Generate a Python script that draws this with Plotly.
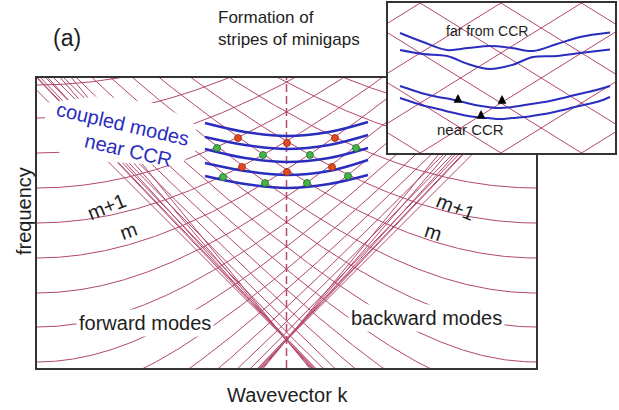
import numpy as np
import plotly.graph_objects as go

# ---------------- data (schematic units: wavevector 0..499, frequency 0..290) ----------------
K_MAX = 499.0
W_MAX = 290.0
ccr_k = 249.5                     # position of the CCR (dashed line)

# dispersion of the mode families
asym_offset = -234.0              # frequency where the common asymptote meets the zone edge
group_slope = 1.05                # asymptotic slope of the branches
# frequency of each mode at its own zone edge (forward: left edge, backward: right edge)
edge_freq = [-204, -169, -134, -99, -64, -29, 6, 41, 75, 110, 145, 180, 215, 250, 283]

# bundle of straight lines crossing at the CCR point near the bottom
bundle_k0 = 249.5
bundle_w0 = 28.0
bundle_slopes = [1.0, 1.05, 1.1, 1.16, 1.22]

# coupled modes near CCR (blue arcs)
arc_k = [168, 208, 250, 292, 331]
arc_w = [
    [245, 236, 232, 236, 246],
    [231, 223, 219, 223, 233],
    [219, 210, 206, 210, 220],
    [205, 197, 193, 197, 208],
    [192, 184, 180, 184, 193],
]
red_k = [201, 250, 298, 205, 250, 295]
red_w = [230, 225, 230, 201, 196, 201]
green_k = [180, 226, 273, 319, 186, 228, 270, 311]
green_w = [220, 213, 213, 220, 191, 185, 185, 192]

# blank area behind the "coupled modes near CCR" label (k, w)
label_area_k = [8, 63, 123, 159, 159, 141, 73, 31, 8]
label_area_w = [265, 272, 264, 243, 218, 202, 206, 208, 228]

# inset (units 0..227 x 0..150)
inset_slope = 0.62
inset_up_b = [-120, -70, -20, 30, 80, 130]
inset_dn_b = [20, 70, 120, 170, 220, 270]
far_k = [12, 35, 59, 80, 102, 124, 145, 169, 192, 222]
far_upper = [120, 111, 103, 105, 107, 105, 102, 109, 116, 120.5]
far_lower = [103, 99, 97, 89, 84, 88, 96, 97, 100, 103.5]
near_k = [12, 24, 37, 50, 62, 75, 87, 100, 112, 124, 137, 150, 162, 175, 187, 200, 212, 222]
near_upper = [67, 63, 59, 56, 54, 51, 48, 46, 45, 46, 48, 50, 52, 55, 58, 61, 64, 67]
near_lower = [55, 51, 47, 44, 41, 38, 36, 35, 34, 35, 36, 38, 40, 43, 46, 49, 52, 56]
arrow_k = [70, 114, 93]
arrow_w = [59, 58, 43]

RED = "#b3476d"
BLUE = "#2a2dbd"
FONT = "Liberation Sans, Arial, sans-serif"

fig = go.Figure()

k = np.linspace(0, K_MAX, 600)


def branch(edge, dist):
    a = edge - asym_offset
    return asym_offset + np.sqrt(a * a + (group_slope * dist) ** 2)


for e in edge_freq:
    fig.add_trace(go.Scatter(x=k, y=branch(e, k), mode="lines",
                             line=dict(color=RED, width=1), hoverinfo="skip", showlegend=False))
    fig.add_trace(go.Scatter(x=k, y=branch(e, K_MAX - k), mode="lines",
                             line=dict(color=RED, width=1), hoverinfo="skip", showlegend=False))

for sl in bundle_slopes:
    for sgn in (1, -1):
        fig.add_trace(go.Scatter(x=k, y=bundle_w0 + sgn * sl * (k - bundle_k0), mode="lines",
                                 line=dict(color=RED, width=1), hoverinfo="skip", showlegend=False))

fig.add_trace(go.Scatter(x=[ccr_k, ccr_k], y=[0, W_MAX], mode="lines",
                         line=dict(color=RED, width=1.5, dash="8px,4px"),
                         hoverinfo="skip", showlegend=False))

# white area behind the blue label
fig.add_trace(go.Scatter(x=label_area_k, y=label_area_w, mode="lines", fill="toself",
                         fillcolor="white", line=dict(width=0, color="white"),
                         hoverinfo="skip", showlegend=False))

for w in arc_w:
    fig.add_trace(go.Scatter(x=arc_k, y=w, mode="lines", line=dict(color=BLUE, width=2.5, shape="spline"),
                             hoverinfo="skip", showlegend=False))

fig.add_trace(go.Scatter(x=red_k, y=red_w, mode="markers",
                         marker=dict(color="#e2491f", size=7, line=dict(color="#9a2a10", width=0.8)),
                         hoverinfo="skip", showlegend=False))
fig.add_trace(go.Scatter(x=green_k, y=green_w, mode="markers",
                         marker=dict(color="#43b649", size=7, line=dict(color="#1f6e25", width=0.8)),
                         hoverinfo="skip", showlegend=False))

# inset
ik = np.linspace(0, 227, 100)
for b in inset_up_b:
    fig.add_trace(go.Scatter(x=ik, y=inset_slope * ik + b, mode="lines", xaxis="x2", yaxis="y2",
                             line=dict(color=RED, width=1), hoverinfo="skip", showlegend=False))
for b in inset_dn_b:
    fig.add_trace(go.Scatter(x=ik, y=-inset_slope * ik + b, mode="lines", xaxis="x2", yaxis="y2",
                             line=dict(color=RED, width=1), hoverinfo="skip", showlegend=False))
for kk, cv in ((far_k, far_upper), (far_k, far_lower), (near_k, near_upper), (near_k, near_lower)):
    fig.add_trace(go.Scatter(x=kk, y=cv, mode="lines", xaxis="x2", yaxis="y2",
                             line=dict(color=BLUE, width=2, shape="spline", smoothing=1.0),
                             hoverinfo="skip", showlegend=False))

W, H = 619, 410


def px(x):
    return x / W


def py(y):
    return 1 - y / H


ann = []


def label(text, x, y, size=20, color="#1e1e1e", angle=0, bg=None, xanchor="center", align="center"):
    d = dict(text=text, x=px(x), y=py(y), xref="paper", yref="paper", showarrow=False,
             font=dict(family=FONT, size=size, color=color), textangle=angle,
             xanchor=xanchor, yanchor="middle", align=align)
    if bg:
        d.update(bgcolor=bg, borderpad=2)
    ann.append(d)


label("(a)", 67, 38, size=23)
label("Formation of<br>stripes of minigaps", 216, 29, size=17, xanchor="left", align="left")
label("frequency", 24, 211, angle=-90)
label("Wavevector k", 287, 395)
label("coupled modes", 123, 124, color=BLUE, angle=13)
label("near CCR", 128, 150, color=BLUE, angle=13)
label("m+1", 106, 207, angle=-22)
label("m", 128, 231, angle=-20)
label("m+1", 455, 207, angle=22)
label("m", 433, 232, angle=18)
label("forward modes", 145, 323, bg="white")
label("backward modes", 426, 318, bg="white")
label("far from CCR", 487, 31, size=14)
label("near CCR", 470, 129, size=15)

for ak, aw in zip(arrow_k, arrow_w):
    ann.append(dict(x=ak, y=aw, xref="x2", yref="y2", text="", showarrow=True, ax=0, ay=8,
                    arrowhead=2, arrowsize=0.7, arrowwidth=2.5, arrowcolor="black"))

axis_common = dict(showgrid=False, zeroline=False, showticklabels=False, ticks="",
                   showline=True, mirror=True, linecolor="#333333", linewidth=2, fixedrange=True)

fig.update_layout(
    width=W, height=H, margin=dict(l=0, r=0, t=0, b=0),
    paper_bgcolor="white", plot_bgcolor="white",
    xaxis=dict(range=[0, K_MAX], domain=[px(37), px(536)], **axis_common),
    yaxis=dict(range=[0, W_MAX], domain=[py(368), py(78)], **axis_common),
    xaxis2=dict(range=[0, 227], domain=[px(388), px(615)], anchor="y2", **axis_common),
    yaxis2=dict(range=[0, 150], domain=[py(153), py(3)], anchor="x2", **axis_common),
    annotations=ann,
    showlegend=False,
)

fig.write_html("out.html", config={"displayModeBar": False},
               post_script="document.body.style.margin='0';")
